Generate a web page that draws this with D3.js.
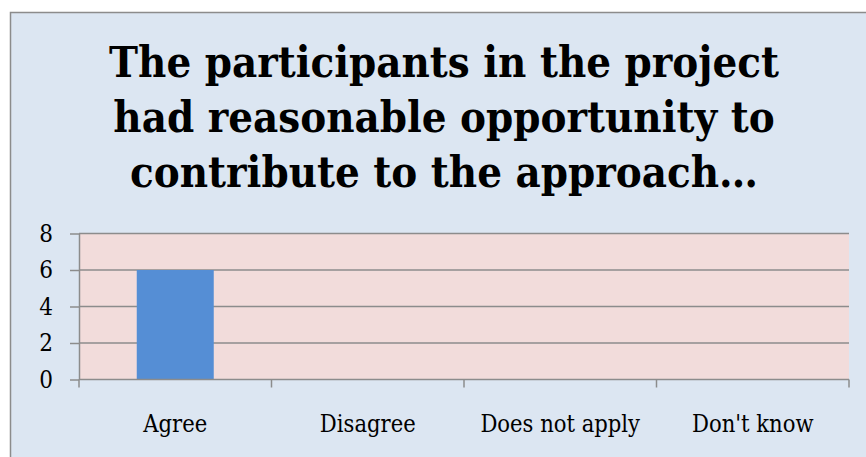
<!DOCTYPE html>
<html>
<head>
<meta charset="utf-8">
<script src="https://cdn.jsdelivr.net/npm/d3@7"></script>
<style>
  body { margin: 0; background: #fff; }
  svg { display: block; }
</style>
</head>
<body>
<div id="plot"></div>
<script>
// chart data
var categories = ["Agree", "Disagree", "Does not apply", "Don't know"];
var counts = [6, 0, 0, 0];
var yTicks = [0, 2, 4, 6, 8];
var titleLines = ["The participants in the project", "had reasonable opportunity to", "contribute to the approach\u2026"];

var svgWidth = 866;
var svgHeight = 457;

var margin = { top: 233.5, right: 17, bottom: 77.5, left: 79 };
var width = svgWidth - margin.left - margin.right;
var height = svgHeight - margin.top - margin.bottom;

var serif = "'DejaVu Serif Condensed', 'DejaVu Serif', serif";

var svg = d3.select("#plot")
  .append("svg")
  .attr("width", svgWidth)
  .attr("height", svgHeight);

// outer chart area
svg.append("rect")
  .attr("x", 10.5)
  .attr("y", 12.5)
  .attr("width", svgWidth)
  .attr("height", svgHeight)
  .attr("fill", "#dce6f2")
  .attr("stroke", "#8c8c8c")
  .attr("stroke-width", 1.5);

// title
svg.append("g").selectAll("text")
  .data(titleLines)
  .enter()
  .append("text")
  .attr("x", 444)
  .attr("y", (d, i) => 77 + i * 55)
  .attr("text-anchor", "middle")
  .style("font-family", serif)
  .style("font-weight", "bold")
  .style("font-size", "43.3px")
  .attr("fill", "#000")
  .text(d => d);

var chartGroup = svg.append("g")
  .attr("transform", `translate(${margin.left}, ${margin.top})`);

var xScale = d3.scaleBand()
  .domain(categories)
  .range([0, width])
  .paddingInner(0.6)
  .paddingOuter(0.3);

var xAxisScale = d3.scaleBand()
  .domain(categories)
  .range([0, width]);

var yScale = d3.scaleLinear()
  .domain([0, 8])
  .range([height, 0]);

// plot background
chartGroup.append("rect")
  .attr("width", width)
  .attr("height", height)
  .attr("fill", "#f2dcdb");

// gridlines
chartGroup.append("g").selectAll("line")
  .data(yTicks.filter(d => d > 0))
  .enter()
  .append("line")
  .attr("x1", 0)
  .attr("x2", width)
  .attr("y1", d => yScale(d))
  .attr("y2", d => yScale(d))
  .attr("stroke", "#8c8c8c")
  .attr("stroke-width", 1.5);

// bars
chartGroup.selectAll(".bar")
  .data(counts)
  .enter()
  .append("rect")
  .attr("class", "bar")
  .attr("x", (d, i) => xScale(categories[i]))
  .attr("y", d => yScale(d))
  .attr("width", xScale.bandwidth())
  .attr("height", d => height - yScale(d))
  .attr("fill", "#558ed5");

// left axis
var leftAxis = d3.axisLeft(yScale)
  .tickValues(yTicks)
  .tickSize(9)
  .tickPadding(17)
  .tickSizeOuter(0);

var yG = chartGroup.append("g").call(leftAxis);
yG.select(".domain").attr("stroke", "#8c8c8c").attr("stroke-width", 1.5);
yG.selectAll(".tick line").attr("stroke", "#8c8c8c").attr("stroke-width", 1.5);
yG.selectAll(".tick text")
  .style("font-family", serif)
  .style("font-size", "24px")
  .attr("fill", "#000");

// bottom axis: ticks at category boundaries
var bounds = categories.map(c => xAxisScale(c)).concat([width]);
chartGroup.append("line")
  .attr("x1", 0).attr("x2", width)
  .attr("y1", height).attr("y2", height)
  .attr("stroke", "#8c8c8c")
  .attr("stroke-width", 1.5);

chartGroup.append("g").selectAll("line")
  .data(bounds)
  .enter()
  .append("line")
  .attr("x1", d => d).attr("x2", d => d)
  .attr("y1", height).attr("y2", height + 8)
  .attr("stroke", "#8c8c8c")
  .attr("stroke-width", 1.5);

chartGroup.append("g").selectAll("text")
  .data(categories)
  .enter()
  .append("text")
  .attr("x", d => xAxisScale(d) + xAxisScale.bandwidth() / 2)
  .attr("y", height + 52)
  .attr("text-anchor", "middle")
  .style("font-family", serif)
  .style("font-size", "23.5px")
  .attr("fill", "#000")
  .text(d => d);
</script>
</body>
</html>
